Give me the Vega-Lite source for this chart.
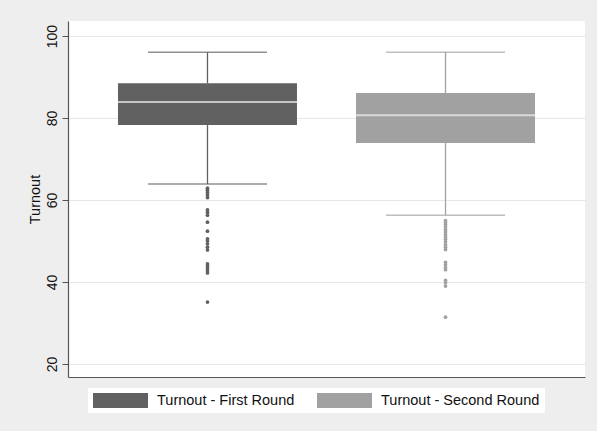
{
  "$schema": "https://vega.github.io/schema/vega-lite/v6.json",
  "autosize": {"type": "none"},
  "width": 517,
  "height": 356,
  "padding": {"left": 68, "top": 21, "right": 12, "bottom": 54},
  "background": "#eeeeee",
  "config": {
    "view": {"fill": "white", "stroke": null},
    "font": "Liberation Sans",
    "legend": {
      "title": null, "orient": "none", "legendX": 20, "legendY": 367, "direction": "horizontal",
      "symbolType": "M-1,-1H6.333V1H-1Z", "symbolSize": 225, "symbolStrokeWidth": 0, "symbolOpacity": 1,
      "labelFontSize": 14.5, "labelColor": "#111111", "labelOffset": 49, "columnPadding": 22,
      "fillColor": "white", "padding": 5
    }
  },
  "datasets": {
    "boxes": [
      {"round": "Turnout - First Round", "lo": 63.9, "q1": 78.3, "median": 83.9, "q3": 88.5, "hi": 96.1},
      {"round": "Turnout - Second Round", "lo": 56.3, "q1": 73.9, "median": 80.7, "q3": 86.1, "hi": 96.1}
    ],
    "outliers": [
      {"round": "Turnout - First Round", "value": 62.9},
      {"round": "Turnout - First Round", "value": 62.4},
      {"round": "Turnout - First Round", "value": 61.8},
      {"round": "Turnout - First Round", "value": 61.2},
      {"round": "Turnout - First Round", "value": 60.6},
      {"round": "Turnout - First Round", "value": 57.6},
      {"round": "Turnout - First Round", "value": 57.0},
      {"round": "Turnout - First Round", "value": 56.3},
      {"round": "Turnout - First Round", "value": 54.6},
      {"round": "Turnout - First Round", "value": 52.4},
      {"round": "Turnout - First Round", "value": 50.5},
      {"round": "Turnout - First Round", "value": 50.0},
      {"round": "Turnout - First Round", "value": 49.3},
      {"round": "Turnout - First Round", "value": 48.5},
      {"round": "Turnout - First Round", "value": 47.8},
      {"round": "Turnout - First Round", "value": 44.4},
      {"round": "Turnout - First Round", "value": 43.9},
      {"round": "Turnout - First Round", "value": 43.4},
      {"round": "Turnout - First Round", "value": 42.8},
      {"round": "Turnout - First Round", "value": 42.2},
      {"round": "Turnout - First Round", "value": 35.1},
      {"round": "Turnout - Second Round", "value": 55.0},
      {"round": "Turnout - Second Round", "value": 54.5},
      {"round": "Turnout - Second Round", "value": 54.0},
      {"round": "Turnout - Second Round", "value": 53.4},
      {"round": "Turnout - Second Round", "value": 52.8},
      {"round": "Turnout - Second Round", "value": 52.2},
      {"round": "Turnout - Second Round", "value": 51.6},
      {"round": "Turnout - Second Round", "value": 51.0},
      {"round": "Turnout - Second Round", "value": 50.4},
      {"round": "Turnout - Second Round", "value": 49.8},
      {"round": "Turnout - Second Round", "value": 49.1},
      {"round": "Turnout - Second Round", "value": 48.5},
      {"round": "Turnout - Second Round", "value": 47.9},
      {"round": "Turnout - Second Round", "value": 44.8},
      {"round": "Turnout - Second Round", "value": 44.2},
      {"round": "Turnout - Second Round", "value": 43.5},
      {"round": "Turnout - Second Round", "value": 43.0},
      {"round": "Turnout - Second Round", "value": 40.4},
      {"round": "Turnout - Second Round", "value": 39.8},
      {"round": "Turnout - Second Round", "value": 39.0},
      {"round": "Turnout - Second Round", "value": 31.4}
    ]
  },
  "encoding": {
    "x": {
      "field": "round", "type": "nominal",
      "scale": {"paddingInner": 0.248, "paddingOuter": 0.21},
      "axis": {"labels": false, "ticks": false, "title": null, "domainColor": "#555555", "domainWidth": 1.2, "grid": false}
    },
    "color": {"field": "round", "type": "nominal", "scale": {"range": ["#616161", "#a1a1a1"]}}
  },
  "layer": [
    {
      "data": {"name": "boxes"},
      "mark": {"type": "bar"},
      "encoding": {
        "y": {
          "field": "q1", "type": "quantitative",
          "scale": {"domain": [16.8, 103.7], "nice": false, "zero": false},
          "axis": {
            "title": "Turnout", "titleFontSize": 14.5, "titleFontWeight": "normal", "titleColor": "#111111", "titlePadding": 3,
            "values": [20, 40, 60, 80, 100],
            "labelAngle": -90, "labelAlign": "center", "labelBaseline": "bottom", "labelFontSize": 14, "labelColor": "#111111", "labelPadding": 3,
            "tickSize": 6, "tickColor": "#555555", "tickWidth": 1,
            "domainColor": "#555555", "domainWidth": 1.2,
            "grid": true, "gridColor": "#e6e6e6", "gridWidth": 1.2
          }
        },
        "y2": {"field": "q3"}
      }
    },
    {
      "data": {"name": "boxes"},
      "mark": {"type": "rule", "strokeWidth": 1.3},
      "encoding": {
        "y": {"field": "lo", "type": "quantitative"},
        "y2": {"field": "q1"}
      }
    },
    {
      "data": {"name": "boxes"},
      "mark": {"type": "rule", "strokeWidth": 1.3},
      "encoding": {
        "y": {"field": "q3", "type": "quantitative"},
        "y2": {"field": "hi"}
      }
    },
    {
      "data": {"name": "boxes"},
      "mark": {"type": "tick", "thickness": 2, "size": 179},
      "encoding": {
        "y": {"field": "median", "type": "quantitative"},
        "color": {"value": "#f2f2f2"}
      }
    },
    {
      "data": {"name": "boxes"},
      "mark": {"type": "tick", "thickness": 1.5, "size": 119},
      "encoding": {
        "y": {"field": "hi", "type": "quantitative"}
      }
    },
    {
      "data": {"name": "boxes"},
      "mark": {"type": "tick", "thickness": 1.5, "size": 119},
      "encoding": {
        "y": {"field": "lo", "type": "quantitative"}
      }
    },
    {
      "data": {"name": "outliers"},
      "mark": {"type": "point", "filled": true, "size": 14, "opacity": 1},
      "encoding": {
        "y": {"field": "value", "type": "quantitative"}
      }
    }
  ]
}
